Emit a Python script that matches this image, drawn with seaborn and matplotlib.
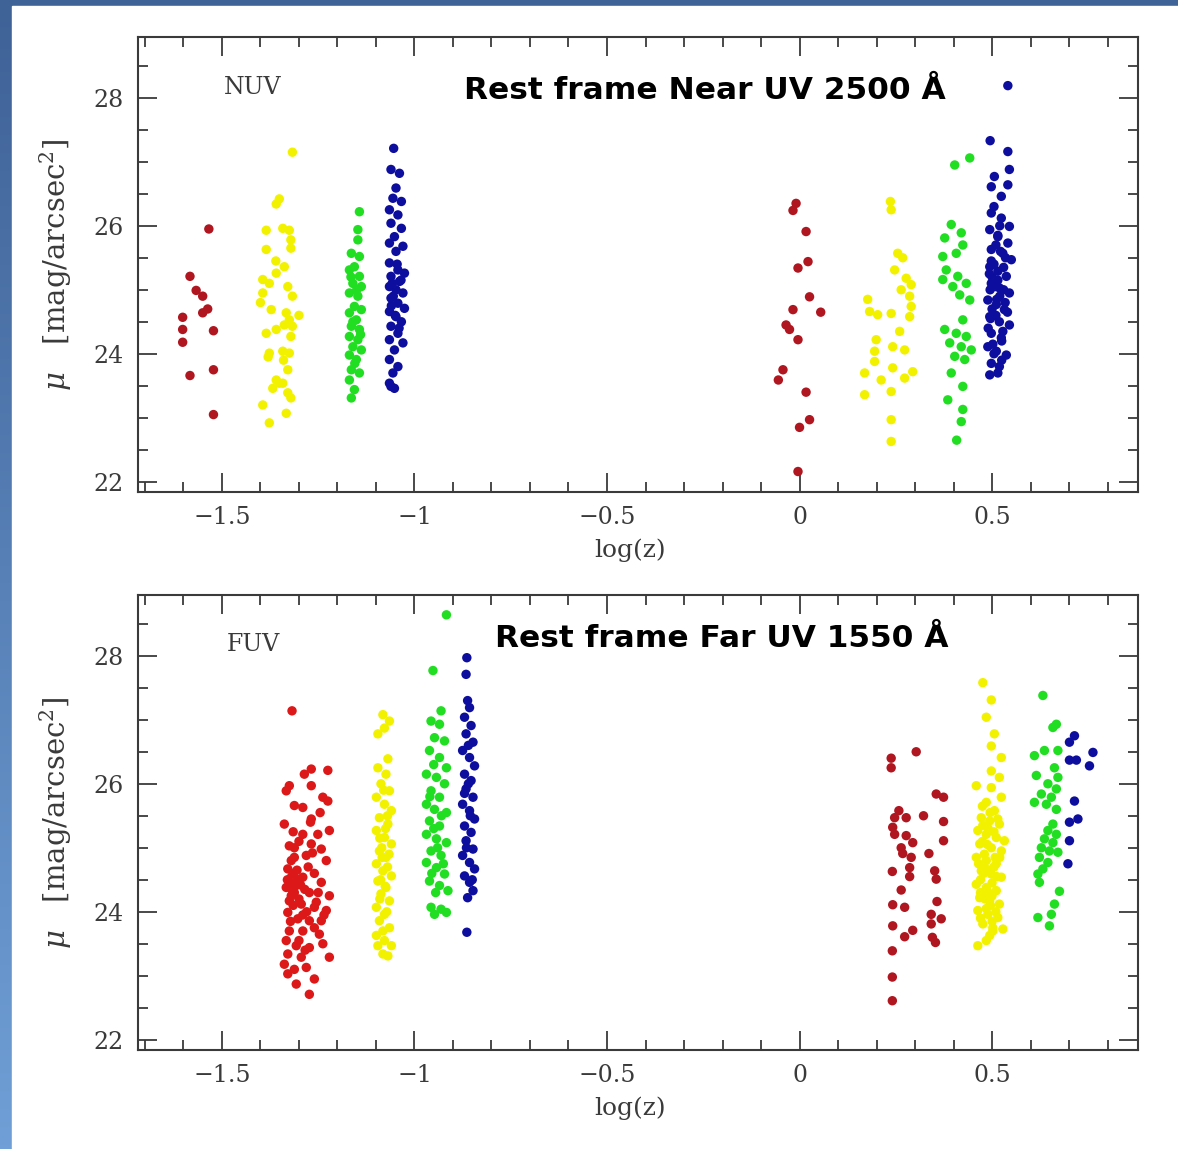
import numpy as np
import pandas as pd
import matplotlib
matplotlib.use("Agg")
import matplotlib.pyplot as plt
import seaborn as sns
from matplotlib.ticker import MultipleLocator, FuncFormatter
from matplotlib.patches import Rectangle
from matplotlib.colors import LinearSegmentedColormap

sns.set_theme(style="white")
plt.rcParams['font.family'] = ['DejaVu Serif']
plt.rcParams['mathtext.fontset'] = 'dejavuserif'

# ---------------- NUV panel (rest frame near UV) ----------------
nuv_red_lo_x = [-1.534, -1.583, -1.567, -1.550, -1.537, -1.550, -1.602, -1.602, -1.602, -1.522, -1.583, -1.522, -1.522]
nuv_red_lo_y = [25.95, 25.21, 24.99, 24.90, 24.70, 24.64, 24.57, 24.38, 24.18, 24.36, 23.66, 23.75, 23.05]

nuv_yel_lo_x = [-1.317, -1.351, -1.359, -1.385, -1.342, -1.325, -1.321, -1.385, -1.321, -1.338,
                -1.359, -1.394, -1.377, -1.329, -1.394, -1.317, -1.372, -1.333, -1.325, -1.338,
                -1.317, -1.385, -1.359, -1.321, -1.377, -1.342, -1.325, -1.329, -1.359, -1.342,
                -1.368, -1.329, -1.321, -1.394, -1.333, -1.377, -1.351, -1.400, -1.360, -1.300,
                -1.340, -1.380]
nuv_yel_lo_y = [27.15, 26.42, 26.34, 25.93, 25.96, 25.93, 25.78, 25.63, 25.65, 25.36,
                25.26, 25.16, 25.10, 25.05, 24.95, 24.90, 24.69, 24.64, 24.53, 24.45,
                24.43, 24.32, 24.38, 24.27, 24.01, 24.04, 24.01, 23.75, 23.59, 23.54,
                23.46, 23.39, 23.31, 23.20, 23.07, 22.92, 23.54, 24.80, 25.45, 24.60,
                23.90, 23.95]

nuv_grn_lo_x = [-1.143, -1.147, -1.147, -1.164, -1.143, -1.156, -1.169, -1.143, -1.160, -1.138,
                -1.169, -1.147, -1.156, -1.138, -1.169, -1.151, -1.164, -1.143, -1.169, -1.147,
                -1.160, -1.138, -1.169, -1.151, -1.164, -1.143, -1.169, -1.156, -1.164, -1.150,
                -1.160, -1.140, -1.155, -1.165]
nuv_grn_lo_y = [26.22, 25.94, 25.78, 25.57, 25.52, 25.36, 25.31, 25.21, 25.10, 25.05,
                24.95, 24.90, 24.74, 24.69, 24.64, 24.53, 24.43, 24.38, 24.27, 24.22,
                24.11, 24.06, 23.98, 23.91, 23.75, 23.70, 23.59, 23.44, 23.31, 25.00,
                24.50, 24.30, 23.85, 25.20]

nuv_blu_lo_x = [-1.054, -1.061, -1.039, -1.048, -1.056, -1.034, -1.065, -1.043, -1.061, -1.034,
                -1.052, -1.065, -1.030, -1.048, -1.065, -1.043, -1.026, -1.061, -1.039, -1.065,
                -1.048, -1.030, -1.061, -1.043, -1.026, -1.065, -1.048, -1.034, -1.061, -1.043,
                -1.065, -1.030, -1.052, -1.065, -1.043, -1.056, -1.065, -1.052, -1.061, -1.055,
                -1.050, -1.058, -1.040, -1.045, -1.060, -1.035]
nuv_blu_lo_y = [27.21, 26.88, 26.82, 26.59, 26.43, 26.38, 26.25, 26.17, 26.04, 25.96,
                25.83, 25.73, 25.68, 25.60, 25.42, 25.31, 25.26, 25.21, 25.13, 25.05,
                25.00, 24.95, 24.87, 24.79, 24.71, 24.66, 24.58, 24.50, 24.43, 24.32,
                24.22, 24.17, 24.06, 23.91, 23.80, 23.70, 23.54, 23.46, 23.49, 24.90,
                24.60, 25.10, 24.40, 25.40, 24.75, 25.15]

nuv_red_hi_x = [-0.009, -0.017, 0.017, 0.022, -0.004, 0.026, -0.017, 0.055, -0.035, -0.026,
                -0.004, -0.043, -0.055, 0.017, 0.026, 0.000, -0.004]
nuv_red_hi_y = [26.35, 26.24, 25.91, 25.44, 25.34, 24.89, 24.69, 24.65, 24.45, 24.38,
                24.22, 23.75, 23.59, 23.40, 22.97, 22.85, 22.16]

nuv_yel_hi_x = [0.236, 0.238, 0.255, 0.268, 0.247, 0.277, 0.290, 0.264, 0.286, 0.177,
                0.290, 0.182, 0.203, 0.238, 0.286, 0.260, 0.199, 0.242, 0.273, 0.195,
                0.195, 0.242, 0.169, 0.294, 0.212, 0.273, 0.169, 0.238, 0.238, 0.238]
nuv_yel_hi_y = [26.38, 26.25, 25.57, 25.50, 25.31, 25.18, 25.08, 25.00, 24.90, 24.85,
                24.74, 24.66, 24.61, 24.63, 24.58, 24.35, 24.22, 24.11, 24.06, 24.04,
                23.88, 23.78, 23.70, 23.72, 23.59, 23.62, 23.36, 23.41, 22.97, 22.63]

nuv_grn_hi_x = [0.403, 0.442, 0.394, 0.377, 0.420, 0.424, 0.372, 0.407, 0.381, 0.411,
                0.372, 0.398, 0.433, 0.416, 0.442, 0.424, 0.377, 0.407, 0.433, 0.390,
                0.420, 0.446, 0.403, 0.429, 0.394, 0.424, 0.385, 0.424, 0.420, 0.408]
nuv_grn_hi_y = [26.95, 27.06, 26.02, 25.81, 25.89, 25.70, 25.52, 25.57, 25.31, 25.21,
                25.16, 25.05, 25.10, 24.92, 24.84, 24.53, 24.38, 24.32, 24.27, 24.17,
                24.11, 24.06, 23.96, 23.91, 23.70, 23.49, 23.28, 23.13, 22.94, 22.65]

nuv_blu_hi_x = [0.541, 0.495, 0.541, 0.545, 0.506, 0.541, 0.498, 0.524, 0.498, 0.524,
                0.545, 0.494, 0.515, 0.541, 0.498, 0.528, 0.550, 0.494, 0.515, 0.537,
                0.498, 0.519, 0.545, 0.489, 0.511, 0.532, 0.494, 0.519, 0.545, 0.498,
                0.524, 0.489, 0.511, 0.537, 0.498, 0.519, 0.494, 0.515,
                0.505, 0.530, 0.510, 0.525, 0.500, 0.535, 0.490, 0.520, 0.505, 0.540,
                0.500, 0.515, 0.530, 0.495, 0.525, 0.510, 0.520, 0.505,
                0.512, 0.496, 0.528, 0.508, 0.493, 0.522, 0.502, 0.534, 0.515, 0.498]
nuv_blu_hi_y = [28.19, 27.33, 27.16, 26.88, 26.77, 26.64, 26.61, 26.46, 26.20, 26.12,
                25.99, 25.94, 25.83, 25.73, 25.63, 25.57, 25.47, 25.36, 25.29, 25.21,
                25.10, 25.03, 24.95, 24.84, 24.77, 24.69, 24.58, 24.50, 24.45, 24.32,
                24.25, 24.11, 24.04, 23.98, 23.85, 23.80, 23.67, 23.70,
                25.40, 25.00, 24.60, 24.20, 25.20, 25.50, 24.40, 24.90, 24.00, 24.65,
                24.70, 25.15, 25.35, 25.00, 23.90, 25.70, 26.00, 26.30,
                24.85, 24.55, 24.35, 25.05, 25.25, 25.60, 24.15, 24.80, 25.85, 25.45]

# ---------------- FUV panel (rest frame far UV) ----------------
fuv_red_lo_x = [-1.318, -1.268, -1.225, -1.286, -1.325, -1.268, -1.238, -1.333, -1.312, -1.290,
                -1.225, -1.338, -1.268, -1.290, -1.251, -1.221, -1.325, -1.268, -1.242, -1.312,
                -1.281, -1.229, -1.329, -1.320, -1.290, -1.242, -1.333, -1.312, -1.273, -1.221,
                -1.325, -1.294, -1.260, -1.229, -1.329, -1.303, -1.273, -1.242, -1.325, -1.290,
                -1.247, -1.333, -1.307, -1.273, -1.238, -1.329, -1.294, -1.221, -1.338, -1.312,
                -1.281, -1.329, -1.307, -1.273,
                -1.325, -1.315, -1.320, -1.310, -1.330, -1.300, -1.315, -1.305, -1.320, -1.285,
                -1.260, -1.250, -1.280, -1.260, -1.300, -1.235, -1.270, -1.245, -1.300, -1.315,
                -1.260,
                -1.318, -1.308, -1.296, -1.276, -1.255, -1.322, -1.290, -1.265, -1.312, -1.284]
fuv_red_lo_y = [27.14, 26.23, 26.21, 26.15, 25.97, 25.97, 25.79, 25.89, 25.66, 25.63,
                25.73, 25.37, 25.45, 25.21, 25.21, 25.27, 25.03, 25.06, 24.98, 24.85,
                24.88, 24.80, 24.67, 24.54, 24.54, 24.46, 24.38, 24.30, 24.30, 24.25,
                24.17, 24.12, 24.07, 24.02, 23.99, 23.89, 23.86, 23.86, 23.70, 23.70,
                23.65, 23.55, 23.47, 23.44, 23.50, 23.34, 23.29, 23.29, 23.18, 23.10,
                23.13, 23.03, 22.87, 22.71,
                24.45, 24.60, 24.25, 24.40, 24.50, 24.20, 24.10, 24.65, 24.80, 24.35,
                24.60, 24.30, 24.00, 23.75, 23.55, 23.95, 25.40, 25.55, 25.10, 25.25,
                22.95,
                24.35, 24.52, 24.42, 24.70, 24.15, 23.85, 23.95, 24.92, 25.00, 23.40]

fuv_yel_lo_x = [-1.082, -1.065, -1.078, -1.095, -1.069, -1.095, -1.074, -1.087, -1.065, -1.099,
                -1.078, -1.060, -1.091, -1.069, -1.099, -1.078, -1.060, -1.091, -1.074, -1.099,
                -1.082, -1.060, -1.095, -1.074, -1.087, -1.065, -1.099, -1.078, -1.091, -1.065,
                -1.099, -1.078, -1.095, -1.060, -1.082, -1.069,
                -1.085, -1.070, -1.090, -1.075, -1.080, -1.088, -1.072,
                -1.084, -1.076, -1.090, -1.070, -1.082, -1.066]
fuv_yel_lo_y = [27.08, 26.98, 26.87, 26.78, 26.39, 26.25, 26.15, 26.00, 25.89, 25.79,
                25.68, 25.58, 25.47, 25.37, 25.27, 25.16, 25.06, 24.95, 24.85, 24.75,
                24.64, 24.56, 24.48, 24.38, 24.28, 24.17, 24.07, 23.96, 23.86, 23.75,
                23.63, 23.55, 23.47, 23.47, 23.34, 23.31,
                25.00, 24.70, 24.20, 25.30, 25.90, 24.50, 24.00,
                24.85, 24.40, 25.15, 25.50, 23.70, 24.90]

fuv_grn_lo_x = [-0.917, -0.952, -0.931, -0.957, -0.935, -0.948, -0.922, -0.961, -0.935, -0.917,
                -0.969, -0.943, -0.922, -0.957, -0.935, -0.969, -0.948, -0.917, -0.961, -0.935,
                -0.969, -0.943, -0.917, -0.957, -0.931, -0.969, -0.943, -0.922, -0.961, -0.935,
                -0.913, -0.957, -0.931, -0.948, -0.917,
                -0.950, -0.940, -0.955, -0.930, -0.960, -0.945, -0.925, -0.950]
fuv_grn_lo_y = [28.64, 27.77, 27.14, 26.98, 26.93, 26.72, 26.67, 26.52, 26.41, 26.25,
                26.15, 26.10, 26.00, 25.89, 25.79, 25.68, 25.60, 25.55, 25.42, 25.34,
                25.21, 25.14, 25.08, 24.95, 24.88, 24.77, 24.69, 24.59, 24.48, 24.41,
                24.33, 24.07, 24.04, 23.96, 23.99,
                25.30, 25.00, 24.60, 25.50, 25.80, 24.30, 24.75, 26.30]

fuv_blu_lo_x = [-0.864, -0.866, -0.862, -0.857, -0.870, -0.853, -0.866, -0.848, -0.875, -0.857,
                -0.844, -0.870, -0.853, -0.866, -0.848, -0.875, -0.857, -0.844, -0.870, -0.853,
                -0.866, -0.848, -0.875, -0.857, -0.844, -0.870, -0.857, -0.848, -0.862, -0.864,
                -0.860, -0.855, -0.865, -0.850, -0.860, -0.870]
fuv_blu_lo_y = [27.97, 27.71, 27.30, 27.19, 27.04, 26.91, 26.78, 26.65, 26.52, 26.41,
                26.28, 26.15, 26.05, 25.92, 25.79, 25.68, 25.58, 25.45, 25.34, 25.24,
                25.11, 24.98, 24.88, 24.77, 24.67, 24.56, 24.46, 24.33, 24.22, 23.68,
                26.00, 25.50, 25.00, 24.50, 26.60, 25.85]

fuv_red_hi_x = [0.303, 0.238, 0.238, 0.355, 0.374, 0.258, 0.247, 0.277, 0.322, 0.374,
                0.242, 0.247, 0.277, 0.294, 0.374, 0.264, 0.268, 0.336, 0.290, 0.286,
                0.241, 0.351, 0.286, 0.355, 0.264, 0.242, 0.273, 0.357, 0.342, 0.368,
                0.342, 0.242, 0.294, 0.273, 0.345, 0.353, 0.241, 0.241, 0.241]
fuv_red_hi_y = [26.50, 26.40, 26.25, 25.84, 25.79, 25.58, 25.47, 25.47, 25.50, 25.41,
                25.32, 25.21, 25.19, 25.08, 25.11, 25.00, 24.91, 24.91, 24.85, 24.69,
                24.63, 24.64, 24.55, 24.51, 24.34, 24.11, 24.07, 24.16, 23.96, 23.89,
                23.81, 23.78, 23.71, 23.61, 23.60, 23.52, 23.39, 22.98, 22.61]

fuv_yel_hi_x = [0.476, 0.498, 0.485, 0.506, 0.498, 0.524, 0.498, 0.459, 0.519, 0.498,
                0.524, 0.485, 0.506, 0.472, 0.494, 0.519, 0.463, 0.485, 0.511, 0.532,
                0.468, 0.498, 0.524, 0.459, 0.485, 0.511, 0.472, 0.498, 0.524, 0.459,
                0.485, 0.511, 0.468, 0.494, 0.519, 0.463, 0.489, 0.515, 0.476, 0.502,
                0.528, 0.494, 0.463,
                0.490, 0.480, 0.505, 0.470, 0.500, 0.485, 0.510, 0.495, 0.475, 0.515,
                0.500, 0.470, 0.480, 0.505, 0.490, 0.475, 0.520, 0.465, 0.500, 0.485,
                0.478, 0.492, 0.508, 0.482, 0.496, 0.470, 0.512, 0.488, 0.502, 0.476]
fuv_yel_hi_y = [27.58, 27.31, 27.04, 26.78, 26.59, 26.41, 26.20, 25.97, 26.10, 25.94,
                25.79, 25.71, 25.58, 25.47, 25.42, 25.37, 25.27, 25.21, 25.16, 25.11,
                25.06, 25.00, 24.95, 24.85, 24.80, 24.75, 24.64, 24.59, 24.54, 24.43,
                24.38, 24.33, 24.22, 24.17, 24.12, 24.02, 23.96, 23.91, 23.81, 23.75,
                23.73, 23.63, 23.47,
                25.30, 24.90, 24.70, 24.50, 24.45, 24.05, 24.00, 25.55, 25.10, 25.45,
                24.25, 23.90, 24.70, 25.25, 24.30, 25.65, 24.85, 24.75, 23.85, 23.55,
                24.60, 24.65, 24.85, 24.20, 24.10, 24.30, 24.55, 25.05, 23.70, 25.35]

fuv_grn_hi_x = [0.632, 0.658, 0.667, 0.610, 0.636, 0.671, 0.662, 0.615, 0.671, 0.645,
                0.667, 0.628, 0.654, 0.610, 0.641, 0.667, 0.658, 0.645, 0.667, 0.636,
                0.658, 0.628, 0.649, 0.671, 0.623, 0.645, 0.632, 0.619, 0.623, 0.675,
                0.662, 0.654, 0.619, 0.649]
fuv_grn_hi_y = [27.38, 26.88, 26.93, 26.44, 26.52, 26.52, 26.25, 26.13, 26.10, 26.00,
                25.92, 25.84, 25.79, 25.71, 25.68, 25.60, 25.37, 25.27, 25.21, 25.14,
                25.08, 25.00, 24.95, 24.93, 24.85, 24.77, 24.67, 24.59, 24.46, 24.32,
                24.12, 23.96, 23.91, 23.78]

fuv_blu_hi_x = [0.714, 0.701, 0.762, 0.701, 0.719, 0.753, 0.714, 0.701, 0.723, 0.701, 0.697]
fuv_blu_hi_y = [26.75, 26.65, 26.49, 26.37, 26.37, 26.28, 25.73, 25.40, 25.45, 25.11, 24.75]

# ---------------- labels / styling ----------------
band_colors = {"darkred": "#b0161f", "red": "#dc1818", "yellow": "#f2f200",
               "green": "#22de22", "blue": "#0e0e9e"}
panel_tags = ["NUV", "FUV"]
panel_titles = ["Rest frame Near UV 2500 Å", "Rest frame Far UV 1550 Å"]
x_label = "log(z)"
y_label = r"$\mu$   [mag/arcsec$^2$]"


def frame(groups):
    parts = [pd.DataFrame({"logz": xs, "mu": ys, "band": band}) for xs, ys, band in groups]
    return pd.concat(parts, ignore_index=True)


nuv_df = frame([
    (nuv_red_lo_x, nuv_red_lo_y, "darkred"), (nuv_yel_lo_x, nuv_yel_lo_y, "yellow"),
    (nuv_grn_lo_x, nuv_grn_lo_y, "green"), (nuv_blu_lo_x, nuv_blu_lo_y, "blue"),
    (nuv_red_hi_x, nuv_red_hi_y, "darkred"), (nuv_yel_hi_x, nuv_yel_hi_y, "yellow"),
    (nuv_grn_hi_x, nuv_grn_hi_y, "green"), (nuv_blu_hi_x, nuv_blu_hi_y, "blue"),
])
fuv_df = frame([
    (fuv_red_lo_x, fuv_red_lo_y, "red"), (fuv_yel_lo_x, fuv_yel_lo_y, "yellow"),
    (fuv_grn_lo_x, fuv_grn_lo_y, "green"), (fuv_blu_lo_x, fuv_blu_lo_y, "blue"),
    (fuv_red_hi_x, fuv_red_hi_y, "darkred"), (fuv_yel_hi_x, fuv_yel_hi_y, "yellow"),
    (fuv_grn_hi_x, fuv_grn_hi_y, "green"), (fuv_blu_hi_x, fuv_blu_hi_y, "blue"),
])

W, H = 1178, 1149
fig = plt.figure(figsize=(W / 100, H / 100), dpi=100)

# slide-like blue frame with gradient, white content area
bg = fig.add_axes([0, 0, 1, 1])
grad = np.linspace(0, 1, 256).reshape(-1, 1)
cmap = LinearSegmentedColormap.from_list("slide", ["#3f6297", "#6f9fd6"])
bg.imshow(grad, extent=[0, W, H, 0], aspect="auto", cmap=cmap)
bg.add_patch(Rectangle((12, 6), W - 12, H - 6, color="white", zorder=2))
bg.set_xlim(0, W)
bg.set_ylim(H, 0)
bg.axis("off")

ax_left, ax_w = 138 / W, 1000 / W
ax_h = 455 / H
positions = [1 - 492 / H, 1 - 1050 / H]

fmt = FuncFormatter(lambda v, p: ("%g" % round(v, 3)).replace("-", "\u2212"))

for i, (df, tag, title) in enumerate(zip([nuv_df, fuv_df], panel_tags, panel_titles)):
    ax = fig.add_axes([ax_left, positions[i], ax_w, ax_h])
    sns.scatterplot(data=df, x="logz", y="mu", hue="band", palette=band_colors,
                    s=46, linewidth=0, legend=False, ax=ax, zorder=3)
    ax.set_xlim(-1.718, 0.879)
    ax.set_ylim(21.84, 28.95)
    ax.set_facecolor("white")
    ax.xaxis.set_major_locator(MultipleLocator(0.5))
    ax.xaxis.set_minor_locator(MultipleLocator(0.1))
    ax.yaxis.set_major_locator(MultipleLocator(2))
    ax.yaxis.set_minor_locator(MultipleLocator(0.5))
    ax.xaxis.set_major_formatter(fmt)
    ax.tick_params(which="both", direction="in", top=True, right=True,
                   bottom=True, left=True,
                   color="#3a3a3a", width=1.3, labelcolor="#3a3a3a", labelsize=17)
    ax.tick_params(which="major", length=14, pad=10)
    ax.tick_params(which="minor", length=7)
    for sp in ax.spines.values():
        sp.set_color("#3a3a3a")
        sp.set_linewidth(1.5)
        sp.set_visible(True)
    ax.set_xlabel(x_label, fontsize=18, color="#3a3a3a")
    ax.set_ylabel(y_label, fontsize=21, color="#3a3a3a")
    ax.xaxis.set_label_coords(0.492, -0.103)
    ax.yaxis.set_label_coords(-0.064, 0.5)
    ax.text(0.115, 0.888 if i == 0 else 0.892, tag, transform=ax.transAxes,
            ha="center", va="center", fontsize=17, color="#3a3a3a")
    ax.text(0.567 if i == 0 else 0.584, 0.882 if i == 0 else 0.904, title,
            transform=ax.transAxes, ha="center", va="center", fontsize=22.5,
            fontweight="bold", family=["DejaVu Sans"], color="black")

fig.savefig("out.png", dpi=100)
